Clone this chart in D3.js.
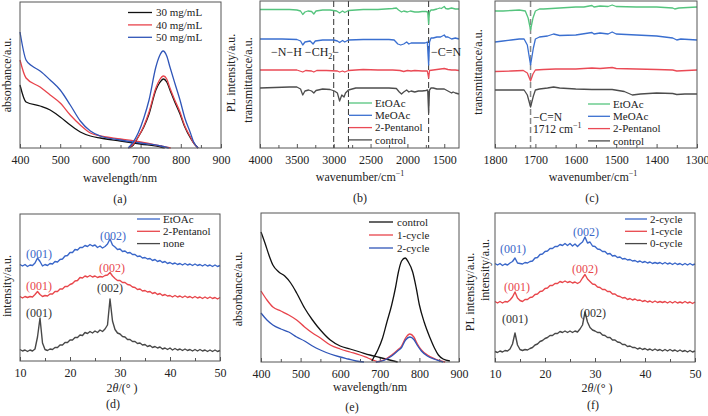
<!DOCTYPE html>
<html><head><meta charset="utf-8">
<script src="https://cdn.jsdelivr.net/npm/d3@7"></script>
<style>
body{margin:0;background:#fff}
text{font-family:"Liberation Serif","Times New Roman",serif;}
</style>
</head><body>
<svg id="chart" width="708" height="416"></svg>
<script>
// ---------- (a) absorbance + PL vs concentration ----------
const absA30 = [[400,63],[415,46],[450,42],[475,38],[500,31],[525,23],[550,16],[575,12],[600,10],[650,7],[700,4],[750,1],[760,0]];
const absA40 = [[400,88],[415,70],[450,61],[475,53],[500,45],[525,33],[550,23],[575,15],[600,12],[650,9],[700,6],[750,2],[775,0]];
const absA50 = [[400,116],[415,88],[430,82],[450,77],[475,68],[500,58],[525,43],[550,27],[575,17],[600,12],[650,8],[700,5],[750,2],[770,0]];
const plA30 = [[670,0],[682,3],[694,11],[708,21],[721,34],[738,58],[747,65],[757,69],[765,66],[773,58],[785,46],[798,34],[810,21],[824,10],[832,5],[843,0]];
const plA40 = [[670,0],[682,4],[694,11],[708,22],[721,36],[738,60],[747,68],[757,72],[765,69],[773,60],[785,48],[798,36],[810,22],[824,11],[832,5],[843,0]];
const plA50 = [[669,0],[680,5],[694,15],[708,30],[721,48],[738,81],[747,92],[756,97],[765,92],[773,81],[785,65],[798,48],[810,30],[824,15],[832,6],[843,0]];
const legendA = ["30 mg/mL","40 mg/mL","50 mg/mL"];

// ---------- (b) FTIR full range ----------
const ftirB_EtOAc = [[4000,138.5],[3800,138.5],[3600,138.5],[3500,138],[3450,137],[3420,133.5],[3390,136],[3350,137],[3300,136.5],[3270,134],[3240,137],[3150,138],[3050,138],[2960,137],[2920,135],[2880,137],[2850,135.5],[2800,137.5],[2700,138],[2600,138.5],[2500,138.5],[2400,138.5],[2300,139],[2200,139.5],[2150,140],[2120,138],[2080,136],[2050,137],[2000,136],[1960,137],[1900,136],[1850,136],[1800,136.5],[1750,136.5],[1725,136],[1712,124],[1700,136],[1680,138],[1650,138],[1600,139],[1560,140],[1540,139.5],[1500,141.5],[1480,139.5],[1450,139],[1400,140],[1350,139],[1300,139]];
const ftirB_MeOAc = [[4000,109],[3700,109],[3500,108.5],[3450,107],[3420,103],[3390,106],[3320,107],[3280,104],[3250,107],[3150,108],[3000,108],[2950,107],[2920,105.5],[2880,107.5],[2850,106],[2800,108],[2600,108.5],[2400,108.5],[2250,108.5],[2180,108],[2130,104],[2090,103],[2050,104],[2010,106],[1980,104],[1950,105],[1900,105],[1850,105],[1800,105],[1760,105],[1730,106],[1712,83],[1700,106],[1680,110],[1650,110],[1600,111],[1550,111],[1500,113],[1480,111],[1450,111],[1400,109],[1350,110],[1300,109]];
const ftirB_Pent = [[4000,78],[3800,78],[3500,78],[3420,76],[3380,77.5],[3300,77],[3270,76],[3230,77.5],[3100,77.5],[2950,77],[2920,76],[2880,77],[2850,76],[2800,77.5],[2600,78.5],[2400,78],[2200,78],[2100,77.5],[2050,76.5],[2000,77.5],[1950,77],[1900,77.5],[1800,77],[1730,77],[1712,70],[1700,77.5],[1650,78],[1600,78.5],[1550,79],[1500,79.5],[1450,78.5],[1400,78],[1350,78],[1300,77.5]];
const ftirB_Ctrl = [[4000,60],[3800,60.5],[3600,61],[3500,61],[3450,59],[3420,53],[3390,57],[3340,58],[3300,57],[3270,55],[3240,57.5],[3150,59],[3050,58.5],[2990,57],[2950,55],[2920,47],[2890,53],[2860,51],[2840,55],[2800,58],[2700,60],[2600,60],[2400,60],[2250,60],[2150,59.5],[2110,56],[2080,54],[2050,56],[2010,58],[1980,56],[1950,57],[1900,56],[1850,57],[1800,57],[1750,57.5],[1725,58],[1712,35],[1700,58],[1680,60],[1650,60],[1600,59],[1550,59],[1500,59],[1450,57],[1400,55],[1380,56],[1350,55],[1300,54]];
const ftirLegend = ["EtOAc","MeOAc","2-Pentanol","control"];

// ---------- (c) FTIR zoom ----------
const ftirC_EtOAc = [[1800,137],[1780,137],[1760,137.5],[1740,138],[1725,137],[1718,130],[1712,118],[1706,130],[1700,137],[1690,139],[1680,139],[1660,139.5],[1640,140],[1600,141],[1580,141],[1560,142.5],[1555,141],[1540,142],[1520,141.5],[1510,143],[1500,141.5],[1450,141],[1400,141],[1360,140],[1355,139],[1345,140],[1300,141]];
const ftirC_MeOAc = [[1800,106],[1780,107],[1760,108],[1740,109],[1728,109],[1720,103],[1712,83],[1705,100],[1700,109],[1690,111],[1670,112],[1655,114],[1640,112.5],[1600,113],[1560,115.5],[1555,114],[1540,115],[1520,114],[1510,116],[1500,114],[1450,113],[1400,112],[1360,110],[1350,108],[1340,109],[1300,108]];
const ftirC_Pent = [[1800,76.5],[1760,77],[1730,77.5],[1720,75],[1712,67],[1706,74],[1700,78],[1680,78.5],[1650,79],[1600,79],[1560,80],[1540,79.5],[1510,80.5],[1500,79.5],[1450,79],[1400,78.5],[1360,78],[1350,77],[1300,78]];
const ftirC_Ctrl = [[1800,58],[1770,58],[1740,58],[1728,58],[1720,53],[1712,41],[1705,52],[1700,58],[1690,59],[1670,60],[1655,61],[1640,60],[1600,59],[1560,58.5],[1540,58.5],[1510,58.5],[1480,56.5],[1460,53],[1440,54],[1400,55],[1360,54.5],[1350,53.5],[1330,54],[1300,54]];

// ---------- (d) XRD by solvent ----------
const xrdAngles = d3.range(10, 50.001, 0.5);
const xrdD_EtOAc = [96.5,95,96.5,94.5,96,95.5,98,103,99.5,95, 96.5,95.5,97.5,97,99.5,99,101.5,102,105,105.5, 108.5,108.5,111.5,111,113.5,113.5,115.5,114.5,116.5,115, 116,113.5,115,113,114.5,117,122,116,114,111.5, 112,109.5,110,108,108.5,106.5,106.5,104.5,105,103, 103.5,102,102.5,100.5,101.5,99.5,100.5,98.5,99.5,97.5, 98.5,97,98,96.5,97.5,96,97.5,96,97,95.5, 97,95.5,96.5,95,96.5,95,96,94.5,96,94.5, 95.5];
const xrdD_Pent = [64.5,63,64.5,63.5,64.5,64,66.5,69.5,66.5,64.5, 65.5,65,67,67,69.5,69.5,72,72,74.5,74.5, 76.5,77.5,80,80.5,83.5,83,85,84,85.5,84, 85,83.5,84.5,84,85.5,86,88.5,85,82.5,80.5, 80.5,78.5,78.5,76.5,76,74,73.5,71.5,72,70, 70.5,69,69.5,67.5,68.5,66.5,67.5,65.5,66.5,65, 65.5,64,65.5,64,65,63.5,65,63.5,64.5,63, 64.5,63,64,62.5,64,62.5,64,62.5,63.5,62, 63.5];
const xrdD_None = [11.5,10,11,9.5,11,10,12,24,43,18, 11.5,10.5,12,11.5,13.5,13.5,16,16,18.5,18.5, 21,21,23.5,23.5,26,25.5,28.5,27.5,29.5,28, 30,28.5,31,29.5,32,36,62,40,31.5,28, 27,24.5,24,21.5,21.5,19.5,19.5,17.5,18,16, 16.5,14.5,15.5,13.5,14.5,13,14,12,13,11.5, 13,11,12.5,11,12,10.5,12,10.5,11.5,10, 11.5,10,11.5,10,11,9.5,11,9.5,11,9.5, 10.5];
const legendD = ["EtOAc","2-Pentanol","none"];

// ---------- (e) absorbance + PL vs cycles ----------
const absE_ctrl = [[400,130],[410,119],[420,107],[430,97],[445,90],[460,86],[475,79],[490,69],[510,54],[530,42],[550,32],[575,22],[600,16],[625,13],[650,10],[675,7],[700,4.5],[725,2],[745,0]];
const absE_1 = [[400,71],[415,62],[430,55],[450,51],[470,47],[490,42],[510,35],[530,29],[550,24],[575,17],[600,13],[625,10],[650,7],[670,4],[690,1],[700,0]];
const absE_2 = [[400,49],[415,42],[430,37],[450,33],[470,30],[490,25],[510,21],[530,16],[550,12],[575,8],[600,5],[620,3],[640,1],[660,0]];
const plE_ctrl = [[680,1],[684,4],[695,12],[707,24],[718,40],[730,57],[740,75],[747,90],[755,101],[764,104],[772,100],[783,90],[792,74],[800,57],[812,40],[827,24],[838,14],[848,7],[860,3],[877,1]];
const plE_1 = [[690,0],[710,2],[730,7],[745,12],[755,16],[765,24],[776,28],[786,25],[795,18],[805,12],[820,7],[840,3],[865,0]];
const plE_2 = [[690,0],[710,1.5],[730,6],[745,11],[755,14.5],[765,22],[776,25],[786,22.5],[795,16.5],[805,11],[820,6],[840,2.5],[860,0]];
const legendE = ["control","1-cycle","2-cycle"];

// ---------- (f) XRD by cycles ----------
const xrdF_2 = [98.5,97,98.5,96.5,98,97,99,100.5,104,99, 98.5,98,99.5,99,100.5,101,104,104.5,107.5,108, 110.5,111,113.5,113.5,115.5,115.5,117.5,116.5,118.5,116.5, 118.5,116,118,115.5,118,120,125,119,120,116, 115.5,113,112.5,110.5,110.5,108,108.5,106,106.5,104.5, 105,103,103.5,102,102.5,101,101.5,100,101,99.5, 100.5,99,100,98.5,99.5,98.5,99.5,98,99.5,98, 99,97.5,99,97.5,98.5,97,98.5,97,98.5,97, 98];
const xrdF_1 = [60.5,59,60.5,59,60.5,60,62,65,70,64, 61.5,60.5,62.5,62.5,64.5,65,67.5,68,70.5,71, 73.5,74,76.5,76.5,78.5,78.5,80.5,79.5,81,79.5, 80.5,79,80,78.5,80,84,87.5,83,80.5,78, 77.5,75,74.5,72.5,72.5,70.5,70.5,68,68,66, 65.5,64,64.5,62.5,63.5,62,63,61.5,62,60.5, 61.5,60,61,59.5,61,59.5,60.5,59.5,60.5,59, 60.5,59,60.5,59,60,59,60.5,59,60,58.5, 60];
const xrdF_0 = [10.5,9.5,11,10,11.5,11,13,18,29,17, 12.5,11.5,12.5,12,13.5,14.5,17,18,20.5,21.5, 23.5,24.5,26.5,26.5,28.5,28.5,30.5,29.5,31,29.5, 31,29.5,31,30,33,37,50,40,34.5,32, 31,29.5,29.5,27,26.5,24.5,24.5,22,22,20, 19.5,17.5,17.5,15.5,16,14.5,14.5,13,14,12.5, 13.5,12,13,11.5,13,11.5,12.5,11,12.5,11, 12.5,11,12,10.5,12,10.5,11.5,10,11.5,10, 11];
const legendF = ["2-cycle","1-cycle","0-cycle"];

// tick values
const ticksWl = [400,500,600,700,800,900], ticksWlMinor = [450,550,650,750,850];
const ticksWnB = [4000,3500,3000,2500,2000,1500], ticksWnBMinor = [3750,3250,2750,2250,1750];
const ticksWnC = [1800,1700,1600,1500,1400,1300], ticksWnCMinor = [1750,1650,1550,1450,1350];
const ticks2t = [10,20,30,40,50], ticks2tMinor = [15,25,35,45];

// ---------- drawing ----------
const C = {black:"#111", red:"#e8434b", blue:"#2f55b8",
           green:"#55c47e", fblue:"#3a6fd0", fred:"#ea4a55", grey:"#4d4d4d",
           xblue:"#3a67c9", xred:"#e8474c", xgrey:"#484848"};
const svg = d3.select("#chart");
svg.append("rect").attr("width",708).attr("height",416).attr("fill","#fff");
const FS = 12, LFS = 11;

function panel(o){
  const x = d3.scaleLinear().domain(o.xd).range([o.x0,o.x1]);
  const y = d3.scaleLinear().domain(o.yd).range([o.y1,o.y0]);
  const g = svg.append("g");
  const major = d3.axisBottom(x).tickValues(o.majors).tickSizeInner(-4).tickSizeOuter(0).tickPadding(7).tickFormat(d3.format("d"));
  const ag = g.append("g").attr("transform",`translate(0,${o.y1})`).call(major);
  ag.select(".domain").remove();
  ag.selectAll("line").attr("stroke","#555");
  ag.selectAll("text").attr("font-size",FS).attr("fill","#222");
  const minor = d3.axisBottom(x).tickValues(o.minors).tickSizeInner(-3).tickSizeOuter(0).tickFormat("");
  const mg = g.append("g").attr("transform",`translate(0,${o.y1})`).call(minor);
  mg.select(".domain").remove();
  mg.selectAll("line").attr("stroke","#555");
  const lg = g.append("g");
  g.append("rect").attr("x",o.x0).attr("y",o.y0).attr("width",o.x1-o.x0).attr("height",o.y1-o.y0)
    .attr("fill","none").attr("stroke","#555").attr("stroke-width",1);
  return {x,y,g:lg};
}
function drawLine(p, data, color, curve, w){
  p.g.append("path").datum(data).attr("fill","none").attr("stroke",color).attr("stroke-width",w||1.3)
    .attr("stroke-linejoin","round")
    .attr("d", d3.line().x(d=>p.x(d[0])).y(d=>p.y(d[1])).curve(curve||d3.curveLinear));
}
function drawXrd(p, vals, color){
  drawLine(p, xrdAngles.map((a,i)=>[a, vals[i]]), color, d3.curveLinear, 1.4);
}
function txt(x,y,s,opt){
  opt = opt||{};
  return svg.append("text").attr("x",x).attr("y",y).attr("font-size",opt.fs||FS)
    .attr("fill",opt.fill||"#222").attr("text-anchor",opt.anchor||"middle").text(s);
}
function ylab(x,y,s){
  svg.append("text").attr("transform",`translate(${x},${y}) rotate(-90)`).attr("font-size",FS)
    .attr("fill","#222").attr("text-anchor","middle").attr("dy","0.35em").text(s);
}
function legend(items, colors, lx0, lx1, tx, y0, step){
  items.forEach((s,i)=>{
    const yy = y0 + i*step;
    svg.append("line").attr("x1",lx0).attr("x2",lx1).attr("y1",yy).attr("y2",yy).attr("stroke",colors[i]).attr("stroke-width",1.3);
    svg.append("text").attr("x",tx).attr("y",yy).attr("dy","0.33em").attr("font-size",LFS).attr("fill","#222").text(s);
  });
}
function wnTitle(x,y){
  const t = svg.append("text").attr("x",x).attr("y",y).attr("font-size",FS).attr("fill","#222").attr("text-anchor","middle");
  t.append("tspan").text("wavenumber/cm");
  t.append("tspan").attr("font-size",8).attr("dy",-5).text("−1");
}
function ttTitle(x,y){
  const t = svg.append("text").attr("x",x).attr("y",y).attr("font-size",FS).attr("fill","#222").attr("text-anchor","middle");
  t.append("tspan").text("2");
  t.append("tspan").attr("font-style","italic").text("θ");
  t.append("tspan").text("/(° )");
}

// (a)
const pa = panel({xd:[400,900], yd:[0,146], x0:20, x1:221, y0:2, y1:148, majors:ticksWl, minors:ticksWlMinor});
drawLine(pa, absA30, C.black, d3.curveMonotoneX);
drawLine(pa, absA40, C.red, d3.curveMonotoneX);
drawLine(pa, absA50, C.blue, d3.curveMonotoneX);
drawLine(pa, plA30, C.black, d3.curveMonotoneX);
drawLine(pa, plA40, C.red, d3.curveMonotoneX);
drawLine(pa, plA50, C.blue, d3.curveMonotoneX);
legend(legendA, [C.black,C.red,C.blue], 128, 152, 156, 12.5, 12.4);
ylab(7,75,"absorbance/a.u.");
ylab(231,73,"PL intensity/a.u.");
txt(120,182,"wavelength/nm");
txt(120,203,"(a)");

// (b)
const pb = panel({xd:[4000,1300], yd:[0,147], x0:260, x1:459, y0:1, y1:148, majors:ticksWnB, minors:ticksWnBMinor});
[3000,2800,1712].forEach(v=>{
  pb.g.append("line").attr("x1",pb.x(v)).attr("x2",pb.x(v)).attr("y1",1).attr("y2",148)
    .attr("stroke","#333").attr("stroke-width",1).attr("stroke-dasharray","6,3");
});
drawLine(pb, ftirB_EtOAc, C.green);
drawLine(pb, ftirB_MeOAc, C.fblue);
drawLine(pb, ftirB_Pent, C.fred);
drawLine(pb, ftirB_Ctrl, C.grey);
legend(ftirLegend, [C.green,C.fblue,C.fred,C.grey], 349, 372, 375, 103, 12.3);
{
  const t = svg.append("text").attr("x",271).attr("y",56).attr("font-size",FS).attr("fill","#222");
  t.append("tspan").text("−N−H  −CH");
  t.append("tspan").attr("font-size",8).attr("dy",3).text("2");
  t.append("tspan").attr("dy",-3).text("−");
  txt(431,56,"−C=N",{anchor:"start"});
}
ylab(248,80,"transmittance/a.u.");
wnTitle(360,181);
txt(360,202,"(b)");

// (c)
const pc = panel({xd:[1800,1300], yd:[0,147], x0:495, x1:697, y0:1, y1:148, majors:ticksWnC, minors:ticksWnCMinor});
pc.g.append("line").attr("x1",pc.x(1712)).attr("x2",pc.x(1712)).attr("y1",1).attr("y2",148)
  .attr("stroke","#888").attr("stroke-width",1.5).attr("stroke-dasharray","6,3");
drawLine(pc, ftirC_EtOAc, C.green);
drawLine(pc, ftirC_MeOAc, C.fblue);
drawLine(pc, ftirC_Pent, C.fred);
drawLine(pc, ftirC_Ctrl, C.grey);
legend(ftirLegend, [C.green,C.fblue,C.fred,C.grey], 588, 610, 613, 104, 12.3);
txt(533,120.5,"−C=N",{anchor:"start",fs:11.5});
{
  const t = svg.append("text").attr("x",533).attr("y",133).attr("font-size",11.5).attr("fill","#222");
  t.append("tspan").text("1712 cm");
  t.append("tspan").attr("font-size",8).attr("dy",-5).text("−1");
}
ylab(478,72,"transmittance/a.u.");
wnTitle(593,181);
txt(592,202,"(c)");

// (d)
const pd = panel({xd:[10,50], yd:[0,147], x0:20, x1:220, y0:214, y1:361, majors:ticks2t, minors:ticks2tMinor});
drawXrd(pd, xrdD_EtOAc, C.xblue);
drawXrd(pd, xrdD_Pent, C.xred);
drawXrd(pd, xrdD_None, C.xgrey);
legend(legendD, [C.xblue,C.xred,C.xgrey], 137, 160, 163, 219, 12.3);
txt(39,258,"(001)",{fill:C.xblue}); txt(113,240,"(002)",{fill:C.xblue});
txt(39,290,"(001)",{fill:C.xred}); txt(112,272,"(002)",{fill:C.xred});
txt(39,317,"(001)",{fill:"#333"}); txt(110,292,"(002)",{fill:"#333"});
ylab(7,286,"intensity/a.u.");
ttTitle(122,392);
txt(113,408,"(d)");

// (e)
const pe = panel({xd:[400,900], yd:[0,149], x0:261, x1:459, y0:213, y1:362, majors:ticksWl, minors:ticksWlMinor});
drawLine(pe, absE_ctrl, C.black, d3.curveMonotoneX);
drawLine(pe, absE_1, C.red, d3.curveMonotoneX);
drawLine(pe, absE_2, C.blue, d3.curveMonotoneX);
drawLine(pe, plE_ctrl, C.black, d3.curveMonotoneX);
drawLine(pe, plE_1, C.red, d3.curveMonotoneX);
drawLine(pe, plE_2, C.blue, d3.curveMonotoneX);
legend(legendE, [C.black,C.red,C.blue], 369, 393, 397, 222, 13);
ylab(238,289,"absorbance/a.u.");
ylab(470,292,"PL intensity/a.u.");
txt(370,391,"wavelength/nm");
txt(352,411,"(e)");

// (f)
const pf = panel({xd:[10,50], yd:[0,149], x0:495, x1:695, y0:213, y1:362, majors:ticks2t, minors:ticks2tMinor});
drawXrd(pf, xrdF_2, C.xblue);
drawXrd(pf, xrdF_1, C.xred);
drawXrd(pf, xrdF_0, C.xgrey);
legend(legendF, [C.xblue,C.xred,C.xgrey], 625, 647, 650, 219, 12.3);
txt(513,253,"(001)",{fill:C.xblue}); txt(586,236,"(002)",{fill:C.xblue});
txt(517,291,"(001)",{fill:C.xred}); txt(585,273,"(002)",{fill:C.xred});
txt(515,323,"(001)",{fill:"#333"}); txt(593,317,"(002)",{fill:"#333"});
ylab(485,270,"intensity/a.u.");
ttTitle(597,392);
txt(593,409,"(f)");
</script>
</body></html>
